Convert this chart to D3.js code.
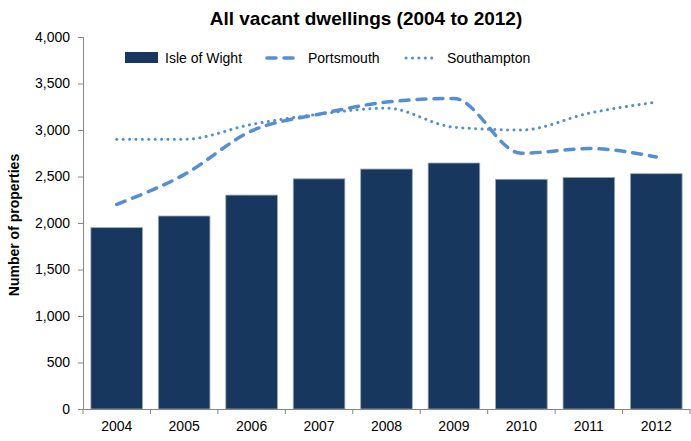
<!DOCTYPE html>
<html><head><meta charset="utf-8">
<script src="https://cdn.jsdelivr.net/npm/d3@7"></script>
<style>body{margin:0;background:#fff;} svg{display:block;}</style>
</head><body>
<svg id="c" width="691" height="441"></svg>
<script>
const years = ["2004","2005","2006","2007","2008","2009","2010","2011","2012"];
const isleOfWight = [1950, 2075, 2300, 2475, 2580, 2645, 2470, 2490, 2530];
const portsmouth = [2200, 2520, 2990, 3170, 3300, 3340, 2750, 2800, 2710];
const southampton = [2900, 2900, 3060, 3170, 3235, 3030, 3000, 3180, 3300];
const yTicks = [0, 500, 1000, 1500, 2000, 2500, 3000, 3500, 4000];

const svg = d3.select("#c");
const font = "'Liberation Sans Narrow','Liberation Sans',sans-serif";
const m = {l: 83, r: 1, t: 37, b: 32};
const W = 691, H = 441;
const x = d3.scaleBand().domain(years).range([m.l, W - m.r]).paddingInner(0.235).paddingOuter(0.117);
const xc = d3.scaleBand().domain(years).range([m.l, W - m.r]);
const y = d3.scaleLinear().domain([0, 4000]).range([H - m.b, m.t]);
const axisCol = "#868686";
const lineCol = "#558ED5";

// bars
svg.append("g").selectAll("rect").data(years).join("rect")
  .attr("x", d => x(d)).attr("width", x.bandwidth())
  .attr("y", (d, i) => y(isleOfWight[i])).attr("height", (d, i) => y(0) - y(isleOfWight[i]))
  .attr("fill", "#17375E").attr("stroke", "#9aa6b4").attr("stroke-width", 0.8);

// y axis
const ya = svg.append("g").attr("transform", `translate(${m.l},0)`)
  .call(d3.axisLeft(y).tickValues(yTicks).tickSize(5).tickPadding(8).tickFormat(d3.format(",")));
ya.select(".domain").attr("stroke", axisCol);
ya.selectAll(".tick line").attr("stroke", axisCol);
ya.selectAll("text").attr("font-family", font).attr("font-size", 14).attr("fill", "#000");

// x axis
const xa = svg.append("g").attr("transform", `translate(0,${y(0)})`)
  .call(d3.axisBottom(xc).tickSize(0).tickPadding(12));
xa.select(".domain").attr("stroke", axisCol);
xa.selectAll("text").attr("font-family", font).attr("font-size", 14).attr("fill", "#000");
svg.append("g").selectAll("line").data(years.concat(["end"])).join("line")
  .attr("x1", (d, i) => m.l + i * xc.step()).attr("x2", (d, i) => m.l + i * xc.step())
  .attr("y1", y(0)).attr("y2", y(0) + 5).attr("stroke", axisCol);

// lines
const line = arr => d3.line().curve(d3.curveMonotoneX)
  .x((d, i) => xc(years[i]) + xc.bandwidth() / 2).y(d => y(d))(arr);
svg.append("path").attr("d", line(portsmouth)).attr("fill", "none").attr("stroke", lineCol)
  .attr("stroke-width", 3.5).attr("stroke-dasharray", "9,8").attr("stroke-linecap", "round");
svg.append("path").attr("d", line(southampton)).attr("fill", "none").attr("stroke", lineCol)
  .attr("stroke-width", 3).attr("stroke-dasharray", "0.1,6.3").attr("stroke-linecap", "round");

// title
svg.append("text").attr("x", 366).attr("y", 25).attr("text-anchor", "middle")
  .attr("font-family", font).attr("font-weight", "bold").attr("font-size", 19).text("All vacant dwellings (2004 to 2012)");

// y axis title
svg.append("text").attr("transform", "translate(19,225) rotate(-90)").attr("text-anchor", "middle")
  .attr("font-family", font).attr("font-weight", "bold").attr("font-size", 14).text("Number of properties");

// legend
const lg = svg.append("g").attr("font-family", font).attr("font-size", 14);
lg.append("rect").attr("x", 125).attr("y", 52).attr("width", 33).attr("height", 11).attr("fill", "#17375E");
lg.append("text").attr("x", 165).attr("y", 63).text("Isle of Wight");
lg.append("line").attr("x1", 267).attr("x2", 300).attr("y1", 58).attr("y2", 58).attr("stroke", lineCol)
  .attr("stroke-width", 3.5).attr("stroke-dasharray", "9,8").attr("stroke-linecap", "round");
lg.append("text").attr("x", 308).attr("y", 63).text("Portsmouth");
lg.append("line").attr("x1", 406).attr("x2", 438).attr("y1", 58).attr("y2", 58).attr("stroke", lineCol)
  .attr("stroke-width", 3).attr("stroke-dasharray", "0.1,6.3").attr("stroke-linecap", "round");
lg.append("text").attr("x", 447).attr("y", 63).text("Southampton");
</script>
</body></html>
